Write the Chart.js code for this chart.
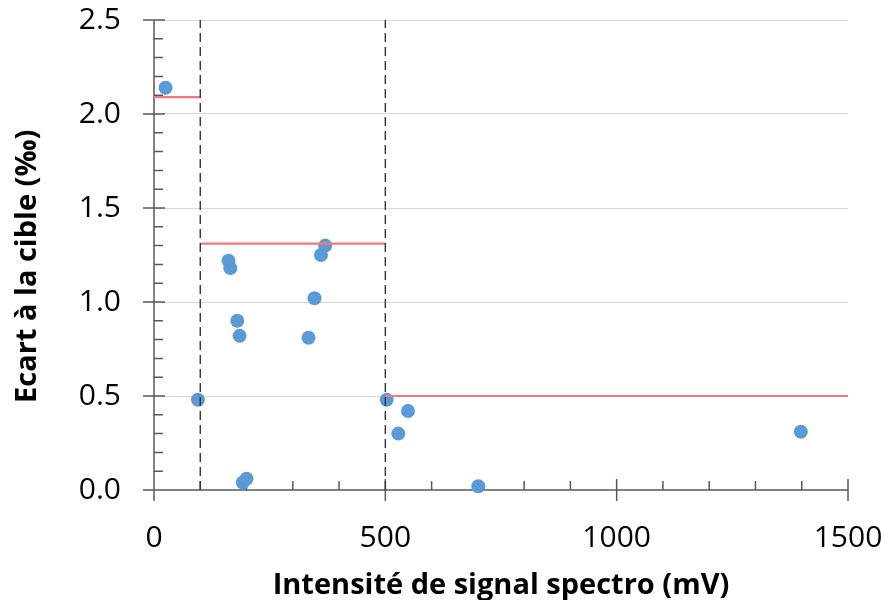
<!DOCTYPE html>
<html><head><meta charset="utf-8">
<script src="https://cdn.jsdelivr.net/npm/chart.js@4"></script>
<style>html,body{margin:0;padding:0;background:#fff}#wrap{width:885px;height:600px}</style>
</head><body><div id="wrap"><canvas id="c" width="885" height="600"></canvas></div>
<script>
// Data
const signalX = [25, 95, 161, 165, 180, 185, 192, 200, 334, 347, 361, 370, 503, 528, 549, 701, 1398];
const ecartY  = [2.14, 0.48, 1.22, 1.18, 0.90, 0.82, 0.04, 0.06, 0.81, 1.02, 1.25, 1.30, 0.48, 0.30, 0.42, 0.02, 0.31];
const cibleDebut = [0, 100, 500];
const cibleFin   = [100, 500, 1500];
const cibleY     = [2.09, 1.31, 0.50];
const seuilsX    = [100, 500];
const xTicks = [0, 500, 1000, 1500];
const yTicks = [0, 0.5, 1.0, 1.5, 2.0, 2.5];
const xMinorStep = 100;
const yMinorStep = 0.1;
const xTitle = 'Intensité de signal spectro (mV)';
const yTitle = 'Ecart à la cible (‰)';

const points = signalX.map((x, i) => ({x, y: ecartY[i]}));
const datasets = [];
seuilsX.forEach(sx => datasets.push({
  type: 'line', data: [{x: sx, y: yTicks[0]}, {x: sx, y: yTicks[yTicks.length - 1]}],
  borderColor: '#333333', borderWidth: 1.4, borderDash: [9, 5], pointRadius: 0, order: 1, clip: false
}));
cibleY.forEach((cy, i) => datasets.push({
  type: 'line', data: [{x: cibleDebut[i], y: cy}, {x: cibleFin[i], y: cy}],
  borderColor: '#f4787b', borderWidth: 2.2, pointRadius: 0, order: 2, clip: false
}));
datasets.push({
  type: 'scatter', data: points, backgroundColor: '#5b9bd5', borderWidth: 0,
  pointRadius: 7, pointHoverRadius: 7, order: 3, clip: false
});

const axesPlugin = {
  id: 'axesPlugin',
  beforeDatasetsDraw(chart) {
    const {ctx, scales: {x, y}} = chart;
    const xmin = xTicks[0], xmax = xTicks[xTicks.length - 1];
    const ymin = yTicks[0], ymax = yTicks[yTicks.length - 1];
    const x0 = x.getPixelForValue(xmin), x1 = x.getPixelForValue(xmax);
    const y0 = y.getPixelForValue(ymin), y1 = y.getPixelForValue(ymax);
    ctx.save();
    ctx.strokeStyle = '#595959';
    ctx.lineWidth = 1.5;
    ctx.beginPath();
    ctx.moveTo(x0, y1); ctx.lineTo(x0, y0);
    ctx.moveTo(x0, y0); ctx.lineTo(x1, y0);
    xTicks.forEach(v => { const p = x.getPixelForValue(v); ctx.moveTo(p, y0 - 11); ctx.lineTo(p, y0 + 11); });
    yTicks.forEach(v => { const p = y.getPixelForValue(v); ctx.moveTo(x0 - 11, p); ctx.lineTo(x0 + 11, p); });
    for (let v = xmin + xMinorStep; v < xmax; v += xMinorStep) {
      if (xTicks.includes(v)) continue;
      const p = x.getPixelForValue(v); ctx.moveTo(p, y0 - 9); ctx.lineTo(p, y0);
    }
    for (let k = 1; k * yMinorStep < ymax - 1e-9; k++) {
      const v = Math.round(k * yMinorStep * 10) / 10;
      if (yTicks.some(t => Math.abs(t - v) < 1e-9)) continue;
      const p = y.getPixelForValue(v); ctx.moveTo(x0, p); ctx.lineTo(x0 + 9, p);
    }
    ctx.stroke();
    ctx.restore();
  }
};

new Chart(document.getElementById('c'), {
  data: {datasets},
  plugins: [axesPlugin],
  options: {
    responsive: false, animation: false, devicePixelRatio: 1,
    layout: {padding: {top: 20, right: 37, left: 0, bottom: 0}},
    plugins: {legend: {display: false}, tooltip: {enabled: false}},
    scales: {
      x: {
        type: 'linear', min: 0, max: 1500,
        afterFit(s) { s.height = 110; s.paddingLeft = 0; s.paddingRight = 0; },
        ticks: {stepSize: 500, padding: 30, color: '#000', font: {family: 'Open Sans', size: 30}, callback: v => String(v)},
        grid: {display: false, drawTicks: false},
        border: {display: false},
        title: {display: true, text: xTitle, color: '#000', font: {family: 'Open Sans', size: 29, weight: 'bold', lineHeight: 1}, padding: {top: 0, bottom: 0}}
      },
      y: {
        type: 'linear', min: 0, max: 2.5,
        afterFit(s) { s.width = 154; s.paddingTop = 0; s.paddingBottom = 0; },
        ticks: {stepSize: 0.5, padding: 33, color: '#000', font: {family: 'Open Sans', size: 30}, callback: v => v.toFixed(1)},
        grid: {drawTicks: false, color: c => (c.tick && c.tick.value > 0) ? '#d9d9d9' : 'rgba(0,0,0,0)', lineWidth: 1},
        border: {display: false},
        title: {display: true, text: yTitle + '\u00a0\u00a0\u00a0', color: '#000', font: {family: 'Open Sans', size: 29, weight: 'bold', lineHeight: 1}, padding: {top: 13, bottom: 0}}
      }
    }
  }
});
</script></body></html>
